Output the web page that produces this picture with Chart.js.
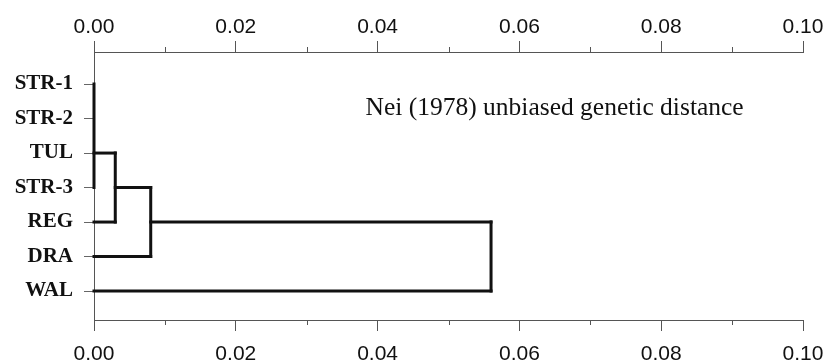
<!DOCTYPE html>
<html>
<head>
<meta charset="utf-8">
<script src="https://cdn.jsdelivr.net/npm/chart.js@4"></script>
<style>
  html, body { margin: 0; padding: 0; background: #fff; }
  #wrap { width: 826px; height: 364px; }
</style>
</head>
<body>
<div id="wrap"><canvas id="dendro" width="826" height="364"></canvas></div>
<script>
// Leaves of the dendrogram (top to bottom)
const leaves = ['STR-1', 'STR-2', 'TUL', 'STR-3', 'REG', 'DRA', 'WAL'];
// Distance tick labels on both axes
const distTicks = [0, 0.02, 0.04, 0.06, 0.08, 0.10];
const minorTicks = [0.01, 0.03, 0.05, 0.07, 0.09];
// Branches: [distance from, leaf row from, distance to, leaf row to]
const branches = [
  [0, 0, 0, 3],          // STR-1 / STR-2 / STR-3 at zero
  [0, 2, 0.003, 2],      // TUL
  [0, 4, 0.003, 4],      // REG
  [0.003, 2, 0.003, 4],  // TUL + REG
  [0.003, 3, 0.008, 3],
  [0, 5, 0.008, 5],      // DRA
  [0.008, 3, 0.008, 5],
  [0.008, 4, 0.056, 4],
  [0, 6, 0.056, 6],      // WAL
  [0.056, 4, 0.056, 6]
];
const noteText = 'Nei (1978) unbiased genetic distance';
const notePos = [0.0383, 0.9];

const datasets = branches.map(b => ({
  data: [{x: b[0], y: b[1]}, {x: b[2], y: b[3]}],
  showLine: true,
  borderColor: '#111',
  borderWidth: 3,
  pointRadius: 0,
  borderCapStyle: 'square',
  clip: false
}));

function distAxis(pos) {
  return {
    type: 'linear',
    position: pos,
    min: 0,
    max: 0.1,
    afterBuildTicks: s => { s.ticks = distTicks.map(v => ({value: v})); },
    afterFit: s => {
      s.height = pos === 'top' ? 52 : 44;
      s.paddingLeft = 0;
      s.paddingRight = 0;
    },
    grid: { drawOnChartArea: false, tickLength: 11, color: '#555', lineWidth: 1 },
    border: { display: true, color: '#555', width: 1 },
    ticks: {
      padding: pos === 'top' ? 3 : 13,
      color: '#111',
      maxRotation: 0,
      font: { family: 'Liberation Sans', size: 21, lineHeight: 1 },
      callback: v => v.toFixed(2)
    }
  };
}

// minor ticks + annotation
const extras = {
  id: 'extras',
  afterDraw(chart) {
    const ctx = chart.ctx;
    const area = chart.chartArea;
    ctx.save();
    ctx.strokeStyle = '#555';
    ctx.lineWidth = 1;
    minorTicks.forEach(v => {
      const xt = Math.round(chart.scales.x.getPixelForValue(v)) + 0.5;
      ctx.beginPath();
      ctx.moveTo(xt, area.top);
      ctx.lineTo(xt, area.top - 5);
      ctx.stroke();
      const xb = Math.round(chart.scales.x2.getPixelForValue(v)) + 0.5;
      ctx.beginPath();
      ctx.moveTo(xb, area.bottom);
      ctx.lineTo(xb, area.bottom + 5);
      ctx.stroke();
    });
    ctx.fillStyle = '#111';
    ctx.font = '25.5px "Liberation Serif"';
    ctx.textBaseline = 'alphabetic';
    ctx.textAlign = 'left';
    ctx.fillText(noteText, chart.scales.x.getPixelForValue(notePos[0]),
      chart.scales.y.getPixelForValue(notePos[1]));
    ctx.restore();
  }
};

new Chart(document.getElementById('dendro'), {
  type: 'scatter',
  data: { datasets: datasets },
  options: {
    responsive: false,
    animation: false,
    layout: { padding: { left: 0, right: 23, top: 0, bottom: 0 } },
    plugins: { legend: { display: false }, tooltip: { enabled: false } },
    scales: {
      x: distAxis('top'),
      x2: distAxis('bottom'),
      y: {
        type: 'linear',
        reverse: true,
        min: -0.93,
        max: 6.84,
        afterBuildTicks: s => { s.ticks = leaves.map((_, i) => ({value: i})); },
        afterFit: s => { s.width = 94; },
        grid: { drawOnChartArea: false, tickLength: 10, color: '#666', lineWidth: 1 },
        border: { display: true, color: '#555', width: 1 },
        ticks: {
          padding: 11,
          color: '#111',
          font: { family: 'Liberation Serif', size: 21, weight: 'bold' },
          callback: v => leaves[v]
        }
      }
    }
  },
  plugins: [extras]
});
</script>
</body>
</html>
